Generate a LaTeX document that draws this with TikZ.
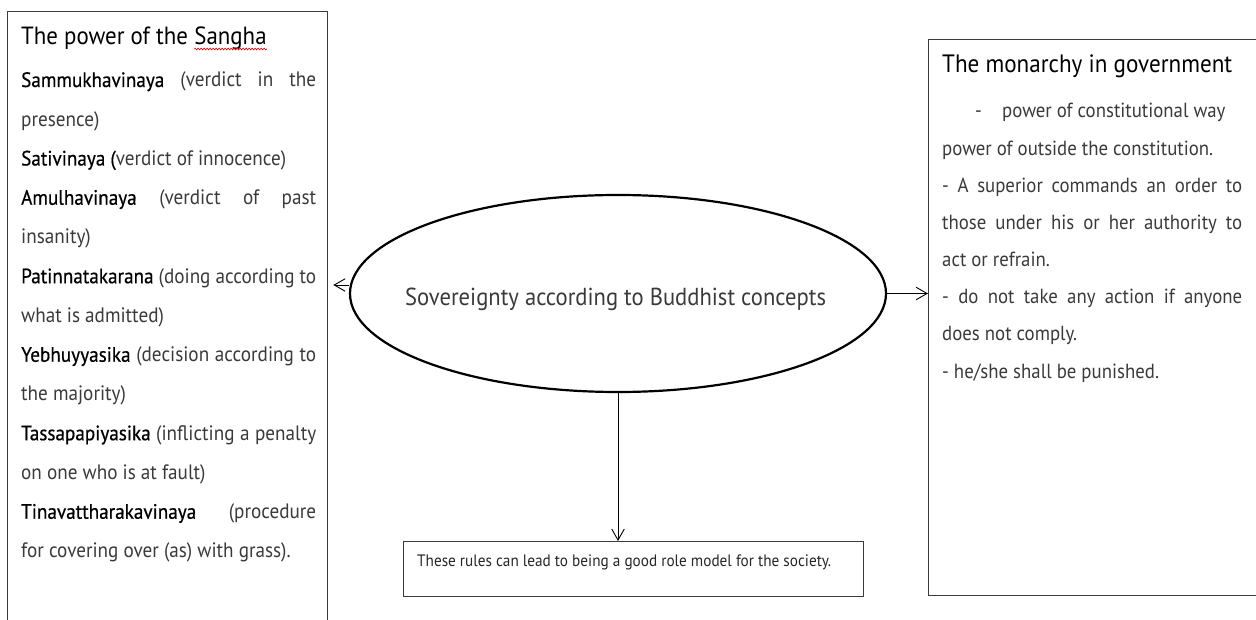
\documentclass[tikz,border=0pt]{standalone}
\usepackage{fontspec}
\setmainfont{PT Sans}[FakeStretch=0.92]
\newfontfamily\namefont{PT Sans}[FakeStretch=0.92,FakeBold=0.5]
\usetikzlibrary{arrows.meta,shapes.geometric,decorations.pathmorphing}
\definecolor{txtgray}{HTML}{3A3A3A}
\definecolor{boxline}{HTML}{3C3C3C}
\newlength\fitw
\newcommand\fitfont[3]{\pgfinterruptpicture\setbox0\hbox{\normalfont\fontsize{10pt}{12pt}\selectfont #3}\global\fitw=\wd0\relax\endpgfinterruptpicture\pgfmathsetmacro#1{10*#2/\fitw}}
\newcommand\nm[1]{{\namefont\color{black}#1}}
\newcommand\Jl[1]{\makebox[295pt][s]{#1}}
\newcommand\Jr[1]{\makebox[300pt][s]{#1}}
\begin{document}
\begin{tikzpicture}[x=1pt,y=-1pt,
  boxst/.style={draw=boxline, line width=1.3pt, inner sep=0pt, anchor=north west},
  arr/.style={-{Straight Barb[length=11pt,width=12.5pt]}, line width=0.9pt},
  txt/.style={inner sep=0pt, anchor=base west}]
\useasboundingbox (0,0) rectangle (1256,620);
\fitfont\lsize{265}{Sativinaya (verdict of innocence)}
\fitfont\rsize{271}{power of outside the constitution.}
\fitfont\ltsize{245}{The power of the Sangha}
\fitfont\rtsize{290}{The monarchy in government}
\fitfont\csize{421}{Sovereignty according to Buddhist concepts}
\fitfont\bsize{414}{These rules can lead to being a good role model for the society.}
% boxes
\node[boxst, minimum width=320pt, minimum height=640pt] (lbox) at (7,11) {};
\node[boxst, minimum width=340pt, minimum height=556pt] (rbox) at (928,39) {};
\node[boxst, minimum width=460pt, minimum height=55pt] (bbox) at (403,541) {};
\node[draw, ellipse, line width=2.2pt, minimum width=536pt, minimum height=197pt, inner sep=0pt] (ell) at (618,293.5) {};
% titles
\node[txt] (lt1) at (21,45) {\fontsize{\ltsize pt}{12pt}\selectfont The power of the\kern\fontdimen2\font};
\node[txt] (lt2) at (lt1.base east) {\fontsize{\ltsize pt}{12pt}\selectfont Sangha};
\draw[red, line width=0.6pt, decorate, decoration={snake, amplitude=0.9pt, segment length=3pt}]
  ([yshift=-4pt]lt2.base west) -- ([yshift=-4pt]lt2.base east);
\node[txt] (rt) at (942,73) {\fontsize{\rtsize pt}{12pt}\selectfont The monarchy in government};
% left text
\node[txt, text=txtgray] (ltext) at (21,87) {\parbox[t]{295pt}{\raggedright\fontsize{\lsize pt}{39.25pt}\selectfont
\Jl{\nm{Sammukhavinaya} (verdict in the}\\
presence)\\
\nm{Sativinaya (}verdict of innocence)\\
\Jl{\nm{Amulhavinaya} (verdict of past}\\
insanity)\\
\Jl{\nm{Patinnatakarana} (doing according to}\\
what is admitted)\\
\Jl{\nm{Yebhuyyasika} (decision according to}\\
the majority)\\
\Jl{\nm{Tassapapiyasika} (inflicting a penalty}\\
on one who is at fault)\\
\Jl{\nm{Tinavattharakavinaya} (procedure}\\
for covering over (as) with grass).}};
% right text
\node[txt, text=txtgray] (rtext) at (942,118) {\parbox[t]{300pt}{\raggedright\fontsize{\rsize pt}{37.15pt}\selectfont
\hspace*{33pt}\makebox[27pt][l]{-}power of constitutional way\\
power of outside the constitution.\\
\Jr{- A superior commands an order to}\\
\Jr{those under his or her authority to}\\
act or refrain.\\
\Jr{- do not take any action if anyone}\\
does not comply.\\
- he/she shall be punished.}};
% centre and bottom texts
\node[inner sep=0pt, anchor=base, text=txtgray] (ctext) at (615.5,305.5) {\fontsize{\csize pt}{12pt}\selectfont Sovereignty according to Buddhist concepts};
\node[txt, text=black!85] (btext) at (417,566.7) {\fontsize{\bsize pt}{12pt}\selectfont These rules can lead to being a good role model for the society.};
% connectors
\coordinate (la) at ([yshift=8.5pt]ell.west);
\draw[arr, shorten >=5pt] (la) -- (la -| lbox.east);
\draw[arr] (ell.east) -- (ell.east -| rbox.west);
\draw[arr] (ell.south) -- (ell.south |- bbox.north);
\end{tikzpicture}
\end{document}
